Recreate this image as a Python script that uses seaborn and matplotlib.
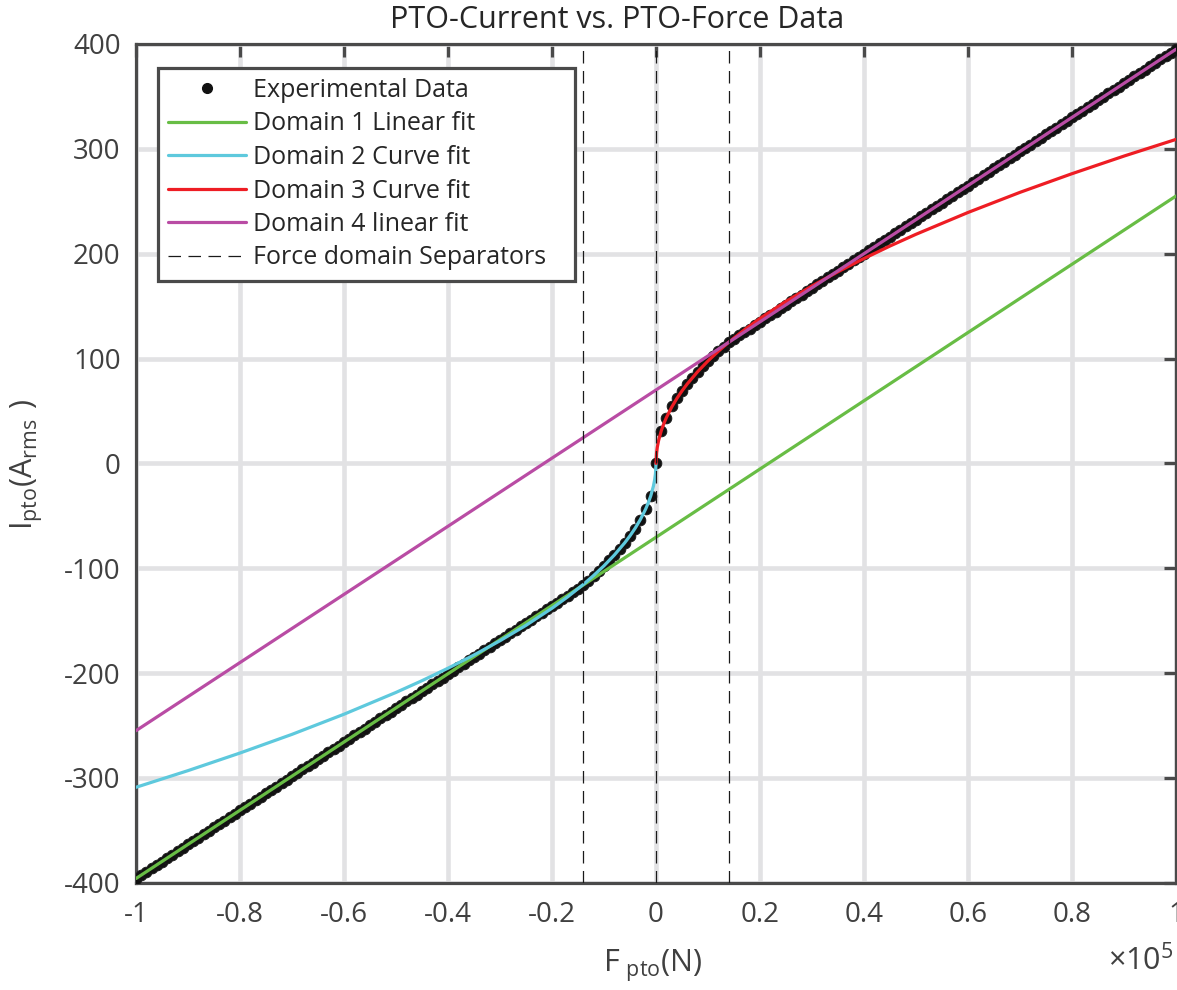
import matplotlib
matplotlib.use("Agg")
import matplotlib.pyplot as plt
from matplotlib.lines import Line2D
import numpy as np
import pandas as pd
import seaborn as sns

# ---------------- data ----------------
title = "PTO-Current vs. PTO-Force Data"

# Experimental data: force in kN, current in A_rms
force_kN = [
    -100, -99, -98, -97, -96, -95, -94, -93, -92, -91, -90, -89, -88, -87, -86, -85, -84, -83, -82, -81,
    -80, -79, -78, -77, -76, -75, -74, -73, -72, -71, -70, -69, -68, -67, -66, -65, -64, -63, -62, -61,
    -60, -59, -58, -57, -56, -55, -54, -53, -52, -51, -50, -49, -48, -47, -46, -45, -44, -43, -42, -41,
    -40, -39, -38, -37, -36, -35, -34, -33, -32, -31, -30, -29, -28, -27, -26, -25, -24, -23, -22, -21,
    -20, -19, -18, -17, -16, -15, -14, -13, -12, -11, -10, -9, -8, -7, -6, -5, -4, -3, -2, -1,
    0, 1, 2, 3, 4, 5, 6, 7, 8, 9, 10, 11, 12, 13, 14, 15, 16, 17, 18, 19,
    20, 21, 22, 23, 24, 25, 26, 27, 28, 29, 30, 31, 32, 33, 34, 35, 36, 37, 38, 39,
    40, 41, 42, 43, 44, 45, 46, 47, 48, 49, 50, 51, 52, 53, 54, 55, 56, 57, 58, 59,
    60, 61, 62, 63, 64, 65, 66, 67, 68, 69, 70, 71, 72, 73, 74, 75, 76, 77, 78, 79,
    80, 81, 82, 83, 84, 85, 86, 87, 88, 89, 90, 91, 92, 93, 94, 95, 96, 97, 98, 99, 100,
]
current_A = [
    -396.0, -392.8, -389.5, -386.3, -383.0, -379.8, -376.5, -373.3, -370.0, -366.8,
    -363.5, -360.3, -357.0, -353.8, -350.5, -347.3, -344.0, -340.8, -337.5, -334.3,
    -331.0, -327.8, -324.5, -321.3, -318.0, -314.8, -311.5, -308.3, -305.0, -301.8,
    -298.5, -295.3, -292.0, -288.8, -285.5, -282.3, -279.0, -275.8, -272.5, -269.3,
    -266.0, -262.8, -259.5, -256.3, -253.0, -249.8, -246.5, -243.3, -240.0, -236.8,
    -233.5, -230.3, -227.0, -223.8, -220.5, -217.3, -214.0, -210.8, -207.5, -204.3,
    -201.0, -197.8, -194.5, -191.3, -188.0, -184.8, -181.5, -178.3, -175.0, -171.8,
    -168.5, -165.3, -162.0, -158.8, -155.5, -152.3, -149.0, -145.8, -142.5, -139.3,
    -136.0, -132.8, -129.5, -126.3, -123.0, -119.8, -116.0, -111.8, -107.0, -102.5,
    -97.5, -92.5, -87.4, -81.7, -75.7, -69.5, -62.5, -54.0, -44.0, -31.0,
    0.0, 31.0, 43.7, 54.5, 62.0, 69.1, 75.7, 81.7, 87.4, 92.7,
    97.7, 102.5, 107.0, 111.4, 115.6, 118.8, 122.0, 125.3, 128.5, 131.8,
    135.0, 138.3, 141.5, 144.8, 148.0, 151.3, 154.5, 157.8, 161.0, 164.3,
    167.5, 170.8, 174.0, 177.3, 180.5, 183.8, 187.0, 190.3, 193.5, 196.8,
    200.0, 203.3, 206.5, 209.8, 213.0, 216.3, 219.5, 222.8, 226.0, 229.3,
    232.5, 235.8, 239.0, 242.3, 245.5, 248.8, 252.0, 255.3, 258.5, 261.8,
    265.0, 268.3, 271.5, 274.8, 278.0, 281.3, 284.5, 287.8, 291.0, 294.3,
    297.5, 300.8, 304.0, 307.3, 310.5, 313.8, 317.0, 320.3, 323.5, 326.8,
    330.0, 333.3, 336.5, 339.8, 343.0, 346.3, 349.5, 352.8, 356.0, 359.3,
    362.5, 365.8, 369.0, 372.3, 375.5, 378.8, 382.0, 385.3, 388.5, 391.8, 395.0,
]

# Domain 1 linear fit (end points)
d1_force_kN = [-100, 100]
d1_current = [-396, 255]

# Domain 4 linear fit (end points)
d4_force_kN = [-100, 100]
d4_current = [-255, 395]

# Domain 2 curve fit
d2_force_kN = [-100, -90, -80, -70, -60, -50, -45, -40, -35, -30, -25, -20, -17, -14, -12, -10,
               -8, -6, -5, -4, -3, -2, -1.5, -1, -0.5, -0.25, -0.1, 0]
d2_current = [-309.0, -293.1, -276.3, -258.5, -239.3, -218.5, -207.3, -195.4, -182.8, -169.2,
              -154.5, -138.2, -127.4, -115.6, -107.0, -97.7, -87.4, -75.7, -69.1, -61.8,
              -53.5, -43.7, -37.8, -30.9, -21.8, -15.4, -9.8, 0.0]

# Domain 3 curve fit
d3_force_kN = [0, 0.1, 0.25, 0.5, 1, 1.5, 2, 3, 4, 5, 6, 8, 10, 12, 14, 17, 20, 25, 30, 35,
               40, 45, 50, 60, 70, 80, 90, 100]
d3_current = [0.0, 9.8, 15.4, 21.8, 30.9, 37.8, 43.7, 53.5, 61.8, 69.1, 75.7, 87.4, 97.7,
              107.0, 115.6, 127.4, 138.2, 154.5, 169.2, 182.8, 195.4, 207.3, 218.5, 239.3,
              258.5, 276.3, 293.1, 309.0]

# Force domain separators
separators_kN = [-14, 0, 14]

legend_labels = ["Experimental Data", "Domain 1 Linear fit", "Domain 2 Curve fit",
                 "Domain 3 Curve fit", "Domain 4 linear fit", "Force domain Separators"]

x_ticks = [-1, -0.8, -0.6, -0.4, -0.2, 0, 0.2, 0.4, 0.6, 0.8, 1]       # x 10^5 N
x_ticklabels = ["-1", "-0.8", "-0.6", "-0.4", "-0.2", "0", "0.2", "0.4", "0.6", "0.8", "1"]
y_ticks = [-400, -300, -200, -100, 0, 100, 200, 300, 400]

# ---------------- styling ----------------
sns.set_style("white")
FONT = ["Open Sans", "DejaVu Sans"]
plt.rcParams["font.family"] = FONT
plt.rcParams["mathtext.fontset"] = "custom"
plt.rcParams["mathtext.rm"] = "Open Sans"

C_GREEN = "#68bd45"
C_CYAN = "#5ec9dd"
C_RED = "#ee1d24"
C_MAG = "#b94ca4"
C_AX = "#4a4a4a"
C_TXT = "#404040"
C_GRID = "#e2e2e4"

fig = plt.figure(figsize=(11.77, 9.9), dpi=100)
W, H = 1177, 990
ax = fig.add_axes([136 / W, (H - 882.7) / H, (1176 - 136) / W, (882.7 - 44) / H])

to_N = lambda v: [x * 1000 for x in v]

df = pd.DataFrame({"F": to_N(force_kN), "I": current_A})
sns.scatterplot(data=df, x="F", y="I", ax=ax, color="#111111", s=60, edgecolor="#1a1a1a",
                linewidth=0.6, zorder=3, legend=False)

lw = 2.3
for fx, iy, col in [(d1_force_kN, d1_current, C_GREEN),
                    (d2_force_kN, d2_current, C_CYAN),
                    (d3_force_kN, d3_current, C_RED),
                    (d4_force_kN, d4_current, C_MAG)]:
    sns.lineplot(x=to_N(fx), y=iy, ax=ax, color=col, lw=lw, sort=False, estimator=None,
                 zorder=4, legend=False)

for s in separators_kN:
    ax.axvline(s * 1000, color="#1a1a1a", lw=0.9, ls=(0, (10, 6)), zorder=5)

ax.set_xlim(-100000, 100000)
ax.set_ylim(-400, 400)
ax.set_xticks([t * 1e5 for t in x_ticks])
ax.set_xticklabels(x_ticklabels)
ax.set_yticks(y_ticks)
ax.set_yticklabels([str(v) for v in y_ticks])
ax.set_xlabel("")
ax.set_ylabel("")

ax.grid(True, color=C_GRID, lw=3.3, zorder=0)
ax.set_axisbelow(True)
for sp in ax.spines.values():
    sp.set_color(C_AX)
    sp.set_linewidth(2.3)
    sp.set_visible(True)
ax.tick_params(axis="both", direction="in", length=9, width=2.3, color=C_AX,
               labelcolor=C_TXT, labelsize=20, top=True, right=True)
ax.tick_params(axis="x", pad=13)
ax.tick_params(axis="y", pad=11)

# title and axis labels
fig.text(617 / W, 1 - 20 / H, title, ha="center", va="center", fontsize=22, color="#262626")
fig.text(653 / W, 18 / H, r"$\mathregular{F_{\ pto}(N)}$", ha="center", va="baseline",
         fontsize=22, color=C_TXT)
fig.text(27 / W, 1 - 465 / H, r"$\mathregular{I_{pto}(A_{rms}\ )}$", ha="center", va="center",
         rotation=90, fontsize=22, color=C_TXT)
fig.text(1174 / W, 20 / H, r"$\mathregular{\times10^{5}}$", ha="right", va="baseline",
         fontsize=22, color=C_TXT)

# legend
handles = [
    Line2D([], [], ls="none", marker="o", color="#111111", markersize=7),
    Line2D([], [], color=C_GREEN, lw=lw),
    Line2D([], [], color=C_CYAN, lw=lw),
    Line2D([], [], color=C_RED, lw=lw),
    Line2D([], [], color=C_MAG, lw=lw),
    Line2D([], [], color="#1a1a1a", lw=0.9, ls=(0, (10, 6))),
]
leg_x0, leg_y1, leg_w = 158 / W, 1 - 68 / H, (575 - 158) / W
leg = ax.legend(handles, legend_labels, loc="upper left", mode="expand",
                bbox_to_anchor=(leg_x0, leg_y1 - 0.2, leg_w, 0.2), bbox_transform=fig.transFigure,
                borderaxespad=0, fontsize=18, frameon=True, fancybox=False,
                handlelength=3.1, handletextpad=0.3, labelspacing=0.34, borderpad=0.4)
leg.get_frame().set_edgecolor(C_AX)
leg.get_frame().set_linewidth(2.3)
leg.get_frame().set_facecolor("white")
leg.get_frame().set_alpha(1)
leg.set_zorder(10)
for t in leg.get_texts():
    t.set_color("#262626")

fig.savefig("out.png", dpi=100)
